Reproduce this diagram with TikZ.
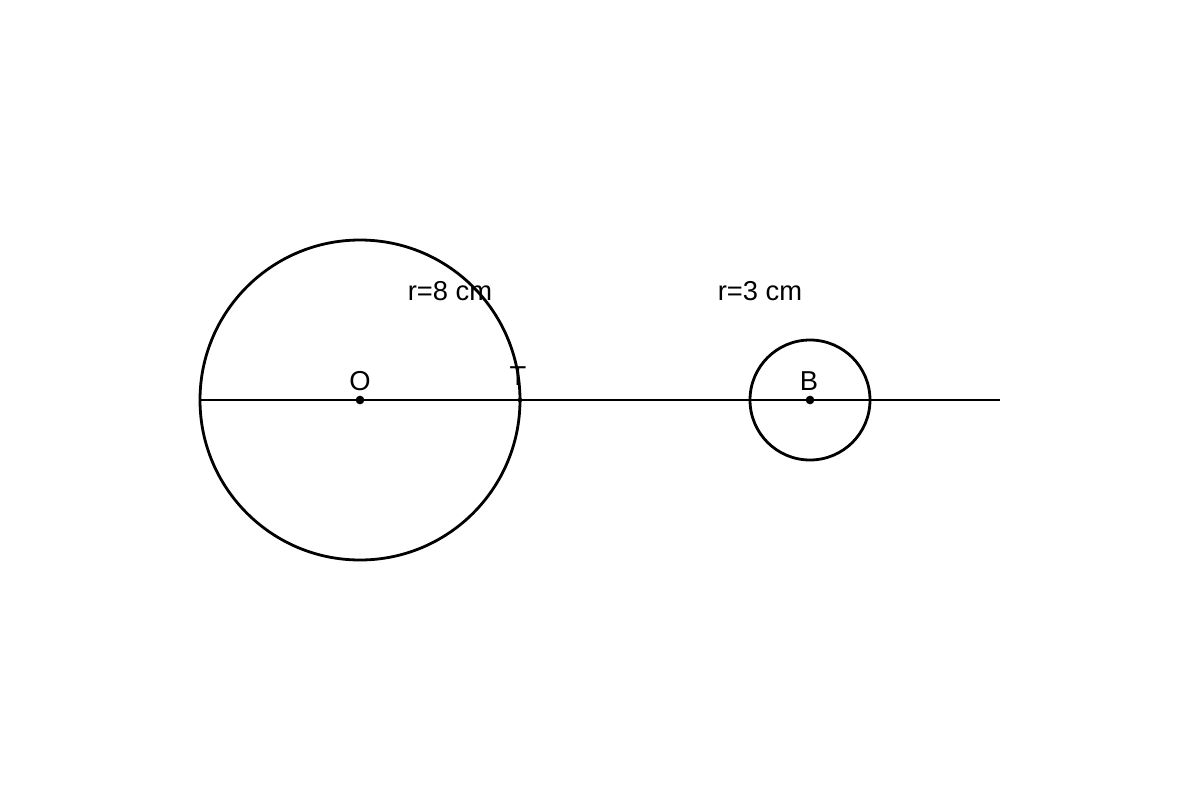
\documentclass[tikz,border=0pt]{standalone}
\usepackage{fontspec}
\setmainfont{Liberation Sans}
\begin{document}
\begin{tikzpicture}[x=0.75pt,y=-0.75pt,
  lbl/.style={anchor=base,inner sep=0pt,font=\fontsize{20.5}{23}\selectfont},
  circ/.style={line width=2.1pt},
  axis/.style={line width=1.5pt},
  dotp/.style={circle,fill=black,inner sep=0pt,minimum size=6.5pt}]
\useasboundingbox[fill=white] (0,0) rectangle (1200,800);
\coordinate (L) at (200,400);
\coordinate (R) at (1000,400);
\node[dotp] (O) at (360,400) {};
\node[dotp] (B) at (810,400) {};
\draw[axis] (L) -- (R);
\draw[circ] (O.center) circle[radius=160];
\draw[circ] (B.center) circle[radius=60];
\node[circle,fill=black,inner sep=0pt,minimum size=3.5pt] (Tp) at (520,400) {};
\node[lbl] (lO) at (360,390) {O};
\node[lbl] (lB) at (809,390) {B};
\node[lbl] (lT) at (518,385) {T};
\node[lbl] (r8) at (450,300) {r=8 cm};
\node[lbl] (r3) at (760,300) {r=3 cm};
\end{tikzpicture}
\end{document}
